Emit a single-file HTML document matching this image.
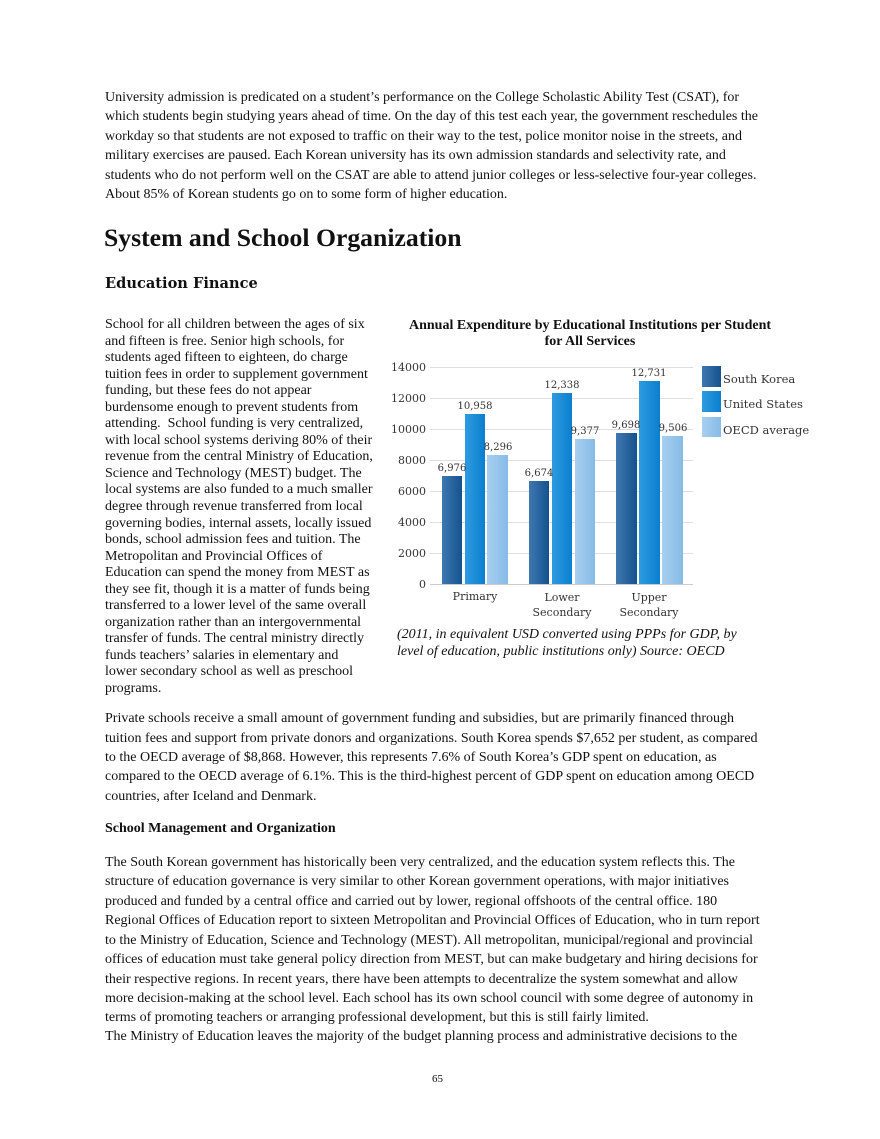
<!DOCTYPE html>
<html><head><meta charset="utf-8"><style>
body{margin:0;background:#fff;}
#p{position:relative;width:880px;height:1139px;overflow:hidden;font-family:"Liberation Serif",serif;color:#111;}
.l{position:absolute;left:105px;white-space:nowrap;font-size:14px;line-height:16px;}
.h1{position:absolute;left:104px;top:223px;font-size:25.7px;font-weight:bold;white-space:nowrap;}
.h2{position:absolute;left:105px;top:275px;font-size:14.6px;font-weight:bold;font-family:"DejaVu Serif",serif;white-space:nowrap;}
.c{position:absolute;font-family:"DejaVu Serif",serif;font-size:11px;white-space:nowrap;color:#333;}
.v{position:absolute;font-size:10px;font-family:"DejaVu Serif",serif;color:#333;white-space:nowrap;transform:translateX(-50%);}
.bar{position:absolute;}
.sk{background:linear-gradient(90deg,#3f78b0,#14528e);}
.us{background:linear-gradient(90deg,#2e9be0,#0a7fcf);}
.oe{background:linear-gradient(90deg,#a8cff0,#86bbe6);}
.g{position:absolute;left:430px;width:263px;height:1px;background:#ddd;}
</style></head><body><div id="p">
<div class="l" style="top:90px">University admission is predicated on a student’s performance on the College Scholastic Ability Test (CSAT), for</div>
<div class="l" style="top:109px">which students begin studying years ahead of time. On the day of this test each year, the government reschedules the</div>
<div class="l" style="top:129px">workday so that students are not exposed to traffic on their way to the test, police monitor noise in the streets, and</div>
<div class="l" style="top:148px">military exercises are paused. Each Korean university has its own admission standards and selectivity rate, and</div>
<div class="l" style="top:168px">students who do not perform well on the CSAT are able to attend junior colleges or less-selective four-year colleges.</div>
<div class="l" style="top:187px">About 85% of Korean students go on to some form of higher education.</div>
<div class="h1">System and School Organization</div>
<div class="h2">Education Finance</div>
<div class="l" style="top:317px">School for all children between the ages of six</div>
<div class="l" style="top:334px">and fifteen is free. Senior high schools, for</div>
<div class="l" style="top:350px">students aged fifteen to eighteen, do charge</div>
<div class="l" style="top:367px">tuition fees in order to supplement government</div>
<div class="l" style="top:383px">funding, but these fees do not appear</div>
<div class="l" style="top:400px">burdensome enough to prevent students from</div>
<div class="l" style="top:416px">attending.&nbsp; School funding is very centralized,</div>
<div class="l" style="top:433px">with local school systems deriving 80% of their</div>
<div class="l" style="top:449px">revenue from the central Ministry of Education,</div>
<div class="l" style="top:466px">Science and Technology (MEST) budget. The</div>
<div class="l" style="top:482px">local systems are also funded to a much smaller</div>
<div class="l" style="top:499px">degree through revenue transferred from local</div>
<div class="l" style="top:516px">governing bodies, internal assets, locally issued</div>
<div class="l" style="top:532px">bonds, school admission fees and tuition. The</div>
<div class="l" style="top:549px">Metropolitan and Provincial Offices of</div>
<div class="l" style="top:565px">Education can spend the money from MEST as</div>
<div class="l" style="top:582px">they see fit, though it is a matter of funds being</div>
<div class="l" style="top:598px">transferred to a lower level of the same overall</div>
<div class="l" style="top:615px">organization rather than an intergovernmental</div>
<div class="l" style="top:631px">transfer of funds. The central ministry directly</div>
<div class="l" style="top:648px">funds teachers’ salaries in elementary and</div>
<div class="l" style="top:664px">lower secondary school as well as preschool</div>
<div class="l" style="top:681px">programs.</div>

<div style="position:absolute;left:380px;top:318px;width:420px;text-align:center;font-weight:bold;font-size:14px;line-height:16px">Annual Expenditure by Educational Institutions per Student<br>for All Services</div>
<div class="g" style="top:367px"></div><div class="g" style="top:398px"></div><div class="g" style="top:429px"></div><div class="g" style="top:460px"></div><div class="g" style="top:491px"></div><div class="g" style="top:522px"></div><div class="g" style="top:553px"></div><div class="g" style="top:584px;background:#ccc"></div>
<div class="c" style="left:388px;top:361px;width:38px;text-align:right">14000</div>
<div class="c" style="left:388px;top:392px;width:38px;text-align:right">12000</div>
<div class="c" style="left:388px;top:423px;width:38px;text-align:right">10000</div>
<div class="c" style="left:388px;top:454px;width:38px;text-align:right">8000</div>
<div class="c" style="left:388px;top:485px;width:38px;text-align:right">6000</div>
<div class="c" style="left:388px;top:516px;width:38px;text-align:right">4000</div>
<div class="c" style="left:388px;top:547px;width:38px;text-align:right">2000</div>
<div class="c" style="left:388px;top:578px;width:38px;text-align:right">0</div>

<div class="bar sk" style="left:442px;width:20px;top:476px;height:108px"></div>
<div class="bar us" style="left:465px;width:20px;top:414px;height:170px"></div>
<div class="bar oe" style="left:487px;width:21px;top:455px;height:129px"></div>
<div class="bar sk" style="left:529px;width:20px;top:481px;height:103px"></div>
<div class="bar us" style="left:552px;width:20px;top:393px;height:191px"></div>
<div class="bar oe" style="left:575px;width:20px;top:439px;height:145px"></div>
<div class="bar sk" style="left:616px;width:21px;top:433px;height:151px"></div>
<div class="bar us" style="left:639px;width:21px;top:381px;height:203px"></div>
<div class="bar oe" style="left:662px;width:21px;top:436px;height:148px"></div>

<div class="v" style="left:452px;top:463px">6,976</div>
<div class="v" style="left:475px;top:401px">10,958</div>
<div class="v" style="left:498px;top:442px">8,296</div>
<div class="v" style="left:539px;top:468px">6,674</div>
<div class="v" style="left:562px;top:380px">12,338</div>
<div class="v" style="left:585px;top:426px">9,377</div>
<div class="v" style="left:626px;top:420px">9,698</div>
<div class="v" style="left:649px;top:368px">12,731</div>
<div class="v" style="left:673px;top:423px">9,506</div>

<div class="bar sk" style="left:702px;top:366px;width:19px;height:21px"></div>
<div class="bar us" style="left:702px;top:391px;width:19px;height:21px"></div>
<div class="bar oe" style="left:702px;top:417px;width:19px;height:20px"></div>
<div class="c" style="left:723px;top:372px;font-size:11.5px">South Korea</div>
<div class="c" style="left:723px;top:397px;font-size:11.5px">United States</div>
<div class="c" style="left:723px;top:423px;font-size:11.5px">OECD average</div>

<div class="c" style="left:475px;top:590px;transform:translateX(-50%);text-align:center">Primary</div>
<div class="c" style="left:562px;top:590px;transform:translateX(-50%);text-align:center;line-height:15px">Lower<br>Secondary</div>
<div class="c" style="left:649px;top:590px;transform:translateX(-50%);text-align:center;line-height:15px">Upper<br>Secondary</div>

<div class="l" style="left:397px;top:627px;font-style:italic;font-size:14px">(2011, in equivalent USD converted using PPPs for GDP, by</div>
<div class="l" style="left:397px;top:644px;font-style:italic;font-size:14px">level of education, public institutions only) Source: OECD</div>

<div class="l" style="top:711px">Private schools receive a small amount of government funding and subsidies, but are primarily financed through</div>
<div class="l" style="top:731px">tuition fees and support from private donors and organizations. South Korea spends $7,652 per student, as compared</div>
<div class="l" style="top:750px">to the OECD average of $8,868. However, this represents 7.6% of South Korea’s GDP spent on education, as</div>
<div class="l" style="top:769px">compared to the OECD average of 6.1%. This is the third-highest percent of GDP spent on education among OECD</div>
<div class="l" style="top:789px">countries, after Iceland and Denmark.</div>
<div class="l" style="top:821px;font-weight:bold">School Management and Organization</div>
<div class="l" style="top:855px">The South Korean government has historically been very centralized, and the education system reflects this. The</div>
<div class="l" style="top:874px">structure of education governance is very similar to other Korean government operations, with major initiatives</div>
<div class="l" style="top:894px">produced and funded by a central office and carried out by lower, regional offshoots of the central office. 180</div>
<div class="l" style="top:913px">Regional Offices of Education report to sixteen Metropolitan and Provincial Offices of Education, who in turn report</div>
<div class="l" style="top:933px">to the Ministry of Education, Science and Technology (MEST). All metropolitan, municipal/regional and provincial</div>
<div class="l" style="top:952px">offices of education must take general policy direction from MEST, but can make budgetary and hiring decisions for</div>
<div class="l" style="top:972px">their respective regions. In recent years, there have been attempts to decentralize the system somewhat and allow</div>
<div class="l" style="top:991px">more decision-making at the school level. Each school has its own school council with some degree of autonomy in</div>
<div class="l" style="top:1010px">terms of promoting teachers or arranging professional development, but this is still fairly limited.</div>
<div class="l" style="top:1029px">The Ministry of Education leaves the majority of the budget planning process and administrative decisions to the</div>
<div class="l" style="left:432px;top:1071px;font-size:11px">65</div>
</div></body></html>
